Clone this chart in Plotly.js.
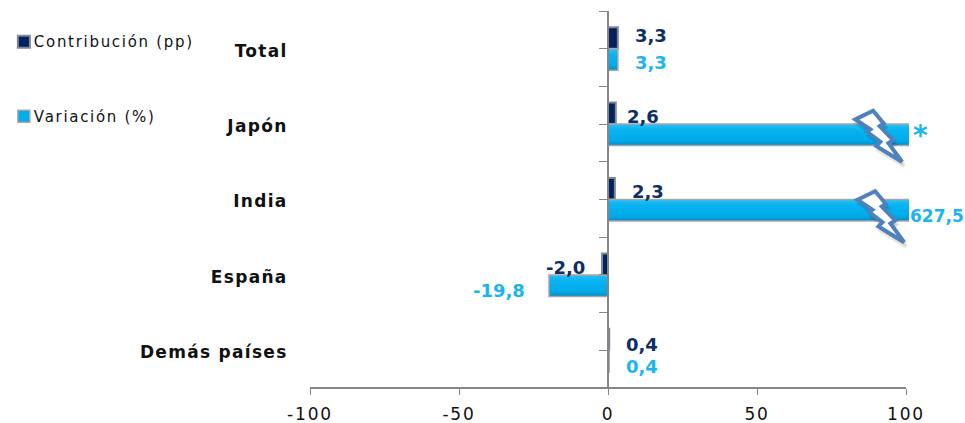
<!DOCTYPE html>
<html><head><meta charset="utf-8">
<script src="https://cdn.plot.ly/plotly-3.0.0.min.js"></script>
<style>
html,body{margin:0;padding:0;background:#fff}
#c{width:965px;height:423px}
.xtick text{letter-spacing:1.8px}
.ytick text{letter-spacing:1.3px;translate:0 2px}
.legendtext{letter-spacing:1.7px;translate:-10px 0}
.barlayer .trace:nth-child(1) .point path{fill:url(#gd)!important}
.barlayer .trace:nth-child(2) .point path{fill:url(#gl)!important}
</style></head><body>
<svg width="0" height="0" style="position:absolute"><defs>
<linearGradient id="gl" x1="0" y1="0" x2="0" y2="1"><stop offset="0" stop-color="#2cc0f5"/><stop offset=".25" stop-color="#09b4f2"/><stop offset=".8" stop-color="#00a9e8"/><stop offset="1" stop-color="#0788bd"/></linearGradient>
<linearGradient id="gd" x1="0" y1="0" x2="1" y2="0"><stop offset="0" stop-color="#06255f"/><stop offset="1" stop-color="#001f5c"/></linearGradient>
</defs></svg>
<div id="c"></div>
<script>
const categories=["Total","Japón","India","España","Demás países"];
const contribucion=[3.3,2.6,2.3,-2.0,0.4];
const variacion=[3.3,627.5,627.5,-19.8,0.4];
const variacionLabels=["3,3","*","627,5","-19,8","0,4"];
const xTicks=[-100,-50,0,50,100];
const fmt=v=>v.toFixed(1).replace(".",",");
const idx=categories.map((_,i)=>i);
const yTickVals=[],yTickText=[];
for(let i=-0.5;i<=4.5;i+=0.5){yTickVals.push(i);yTickText.push(Number.isInteger(i)?categories[i]:"");}
const dark="#002060",light="#00AEEF";
const traces=[
 {type:"bar",orientation:"h",name:"Contribución (pp)",y:idx,x:contribucion,legendgroup:"a",marker:{color:dark,line:{color:"#7f8796",width:2}},hoverinfo:"x+y"},
 {type:"bar",orientation:"h",name:"Variación (%)",y:idx,x:variacion,legendgroup:"b",marker:{color:light,line:{color:"#a6a6a6",width:1.5}},hoverinfo:"x+y"}
];
// label placement (offsets from the bar end), separate from the data
const darkShift=[33,27,33,-37,33];
const lightShift=[33,0,29,-50,33];
const darkY=[-0.173,-0.107,-0.107,-0.094,-0.08];
const lightY=[0.177,0.157,0.223,0.213,0.21];
const labelFont=(c,s)=>({family:"DejaVu Sans",size:s||18,color:c,weight:700});
const annotations=[];
idx.forEach(i=>{
 annotations.push({x:contribucion[i],y:i+darkY[i],xref:"x",yref:"y",text:fmt(contribucion[i]),showarrow:false,xshift:darkShift[i],font:labelFont("#0b2f66")});
});
idx.forEach(i=>{
 const big=variacionLabels[i]==="*";
 const over=variacion[i]>100;
 annotations.push({x:Math.min(variacion[i],100),y:i+lightY[i],xref:"x",yref:"y",text:variacionLabels[i],showarrow:false,xshift:big?14:(over?31:lightShift[i]),font:labelFont("#19b5f1",big?28:(over?17:18))});
});
// lightning bolt decoration (pixel path around an anchor; +y is up)
const bolt="M 3 4.7 L 20.7 13.3 L 31.3 0.7 L 27.3 -2 L 40.7 -16 L 36 -19 L 49.7 -37.7 L 24 -22 L 28 -17.7 L 14.7 -7.7 L 18 -5.3 Z";
const boltShadow="M 5 0.7 L 22.7 9.3 L 33.3 -3.3 L 29.3 -6 L 42.7 -20 L 38 -23 L 51.7 -41.7 L 26 -26 L 30 -21.7 L 16.7 -11.7 L 20 -9.3 Z";
function boltShapes(y,xa){
 const base={type:"path",xref:"x",yref:"y",xsizemode:"pixel",ysizemode:"pixel",xanchor:xa,yanchor:y,layer:"above"};
 return [
  {...base,path:boltShadow,fillcolor:"rgba(0,0,0,0.14)",line:{color:"rgba(0,0,0,0.10)",width:4}},
  {...base,path:bolt,fillcolor:"#ffffff",line:{color:"#4f81bd",width:4}}
 ];
}
const shapes=[
 {type:"line",xref:"x",yref:"paper",x0:-100,x1:100,y0:0,y1:0,line:{color:"#868686",width:2},layer:"below"},
 ...boltShapes(1,82),...boltShapes(2.066,82.7)
];
const layout={
 width:965,height:423,margin:{l:310,r:56,t:11,b:35},paper_bgcolor:"#fff",plot_bgcolor:"#fff",
 barmode:"group",bargap:0.43,bargroupgap:0,
 xaxis:{range:[-100,101],tickmode:"array",tickvals:xTicks,ticktext:xTicks.map(String),showgrid:false,zeroline:false,showline:false,ticks:"outside",ticklen:6,tickcolor:"#868686",tickwidth:1,ticklabelstandoff:5,tickfont:{family:"DejaVu Sans",size:17,color:"#111"}},
 yaxis:{range:[4.5,-0.5],anchor:"free",position:100/201,tickmode:"array",tickvals:yTickVals,ticktext:yTickText,showgrid:false,zeroline:false,showline:true,linecolor:"#868686",linewidth:2,ticks:"outside",ticklen:8,tickcolor:"#868686",tickwidth:1,ticklabelstandoff:308,tickfont:{family:"DejaVu Sans",size:17,color:"#111",weight:700}},
 showlegend:true,
 legend:{x:0.004,xref:"container",xanchor:"left",y:0.94,yref:"container",yanchor:"top",traceorder:"grouped",tracegroupgap:52,bgcolor:"rgba(0,0,0,0)",font:{family:"DejaVu Sans",size:15,color:"#111"},itemwidth:30},
 annotations,shapes
};
Plotly.newPlot("c",traces,layout,{displayModeBar:false,staticPlot:true});
</script></body></html>
